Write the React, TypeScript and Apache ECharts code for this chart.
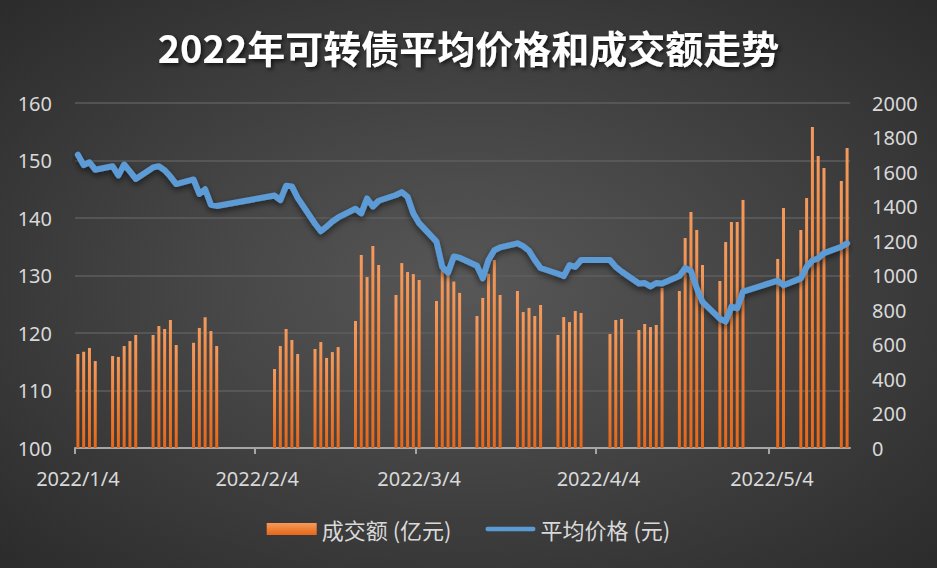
import React, { useEffect, useRef } from "react";
import * as echarts from "echarts";

// Trading days (2022)
const tradeDates = [
  "2022-01-04","2022-01-05","2022-01-06","2022-01-07","2022-01-10","2022-01-11","2022-01-12","2022-01-13","2022-01-14",
  "2022-01-17","2022-01-18","2022-01-19","2022-01-20","2022-01-21","2022-01-24","2022-01-25","2022-01-26","2022-01-27","2022-01-28",
  "2022-02-07","2022-02-08","2022-02-09","2022-02-10","2022-02-11","2022-02-14","2022-02-15","2022-02-16","2022-02-17","2022-02-18",
  "2022-02-21","2022-02-22","2022-02-23","2022-02-24","2022-02-25","2022-02-28",
  "2022-03-01","2022-03-02","2022-03-03","2022-03-04","2022-03-07","2022-03-08","2022-03-09","2022-03-10","2022-03-11",
  "2022-03-14","2022-03-15","2022-03-16","2022-03-17","2022-03-18","2022-03-21","2022-03-22","2022-03-23","2022-03-24","2022-03-25",
  "2022-03-28","2022-03-29","2022-03-30","2022-03-31",
  "2022-04-01","2022-04-06","2022-04-07","2022-04-08","2022-04-11","2022-04-12","2022-04-13","2022-04-14","2022-04-15",
  "2022-04-18","2022-04-19","2022-04-20","2022-04-21","2022-04-22","2022-04-25","2022-04-26","2022-04-27","2022-04-28","2022-04-29",
  "2022-05-05","2022-05-06","2022-05-09","2022-05-10","2022-05-11","2022-05-12","2022-05-13","2022-05-16","2022-05-17",
];

// 成交额 (亿元)
const volumes = [
  545, 558, 580, 504, 533, 528, 591, 620, 655,
  655, 707, 690, 742, 597, 610, 696, 758, 678, 591,
  458, 591, 690, 626, 545, 574, 614, 522, 556, 585,
  736, 1119, 991, 1171, 1061, 887,
  1072, 1020, 1008, 974, 852, 1032, 1003, 965, 899,
  765, 870, 1010, 1090, 887, 910, 788, 812, 765, 829,
  655, 759, 730, 794,
  783, 661, 742, 748, 684, 719, 701, 713, 928,
  910, 1217, 1368, 1264, 1061, 968, 1194, 1310, 1310, 1438,
  1096, 1391, 1264, 1449, 1861, 1693, 1623, 1548, 1739,
];

// 平均价格 (元)
const prices = [
  151.0, 149.2, 149.7, 148.4, 149.0, 147.4, 149.3, 148.1, 146.8,
  148.8, 149.0, 148.3, 147.2, 145.9, 146.7, 144.2, 145.0, 142.3, 142.1,
  143.9, 143.1, 145.6, 145.5, 143.5, 139.0, 137.7, 138.5, 139.4, 140.1,
  141.6, 140.8, 143.4, 142.0, 143.0, 144.0,
  144.5, 143.7, 140.8, 139.1, 135.9, 131.5, 130.5, 133.3, 133.1,
  131.7, 129.5, 132.7, 134.4, 134.9, 135.6, 135.1, 134.3, 132.7, 131.3,
  130.3, 129.9, 131.8, 131.5,
  132.7, 132.7, 131.5, 130.7, 128.6, 128.7, 128.1, 128.7, 128.6,
  129.9, 131.3, 130.8, 127.8, 125.4, 122.5, 122.0, 124.6, 124.3, 127.2,
  129.1, 128.3, 129.5, 131.5, 132.6, 133.0, 133.9, 135.0, 135.6,
];

const xLabelDates = ["2022-01-04", "2022-02-04", "2022-03-04", "2022-04-04", "2022-05-04"];
const axisStart = "2022-01-04";
const axisEnd = "2022-05-18";

const TITLE = "2022年可转债平均价格和成交额走势";
const BAR_NAME = "成交额 (亿元)";
const LINE_NAME = "平均价格 (元)";

function ts(s: string, hour = 0) {
  const [y, m, d] = s.split("-").map(Number);
  return new Date(y, m - 1, d, hour).getTime();
}

export default function App() {
  const ref = useRef<HTMLDivElement>(null);
  useEffect(() => {
    document.body.style.margin = "0";
    const chart = echarts.init(ref.current!, null, { renderer: "svg" });
    const labelFont = "'Noto Sans', 'Noto Sans CJK SC', sans-serif";
    const cjkFont = "'Noto Sans CJK SC', 'Noto Sans', sans-serif";
    chart.setOption({
      animation: false,
      backgroundColor: "transparent",
      title: {
        text: TITLE,
        left: "center",
        top: 22,
        textStyle: {
          color: "#ffffff",
          fontSize: 38,
          fontWeight: "bold",
          fontFamily: cjkFont,
          textShadowColor: "rgba(0,0,0,0.7)",
          textShadowBlur: 4,
          textShadowOffsetX: 2,
          textShadowOffsetY: 2,
        },
      },
      legend: {
        left: "center",
        top: 513,
        itemWidth: 50,
        itemHeight: 12,
        itemGap: 34,
        textStyle: { color: "#d9d9d9", fontSize: 22, fontFamily: cjkFont },
        data: [
          { name: BAR_NAME, icon: "rect" },
          {
            name: LINE_NAME,
            icon: "path://M2.5,0 L53.5,0 A2.5,2.5 0 0 1 53.5,5 L2.5,5 A2.5,2.5 0 0 1 2.5,0 Z",
            itemStyle: { color: "#5B9BD5" },
          },
        ],
      },
      grid: { left: 75, right: 87, top: 103, bottom: 120, outerBoundsMode: "none" },
      xAxis: {
        type: "value",
        min: ts(axisStart),
        max: ts(axisEnd),
        axisLine: { show: true, lineStyle: { color: "#a6a6a6", width: 2 } },
        axisTick: {
          show: true,
          length: 6,
          lineStyle: { color: "#a6a6a6", width: 2 },
          customValues: xLabelDates.map((d) => ts(d)),
        },
        axisLabel: {
          color: "#d9d9d9",
          fontSize: 20,
          fontFamily: labelFont,
          margin: 20,
          customValues: xLabelDates.map((d) => ts(d, 12)),
          formatter: (v: number) => {
            const d = new Date(v);
            return d.getFullYear() + "/" + (d.getMonth() + 1) + "/" + d.getDate();
          },
        },
        splitLine: { show: false },
      },
      yAxis: [
        {
          type: "value",
          min: 100,
          max: 160,
          interval: 10,
          axisLine: { show: false },
          axisTick: { show: false },
          axisLabel: { color: "#d9d9d9", fontSize: 20, fontFamily: labelFont, margin: 23, formatter: (v: number) => String(v) },
          splitLine: { lineStyle: { color: "#5e5e5e", width: 1.5 } },
        },
        {
          type: "value",
          min: 0,
          max: 2000,
          interval: 200,
          axisLine: { show: false },
          axisTick: { show: false },
          axisLabel: { color: "#d9d9d9", fontSize: 20, fontFamily: labelFont, margin: 22, formatter: (v: number) => String(v) },
          splitLine: { show: false },
        },
      ],
      series: [
        {
          name: BAR_NAME,
          type: "bar",
          yAxisIndex: 1,
          barWidth: 3,
          data: tradeDates.map((d, i) => [ts(d, 12), volumes[i]]),
          itemStyle: {
            color: new echarts.graphic.LinearGradient(0, 0, 0, 1, [
              { offset: 0, color: "#F59A5C" },
              { offset: 0.5, color: "#EE7F35" },
              { offset: 1, color: "#E5671A" },
            ]),
          },
        },
        {
          name: LINE_NAME,
          type: "line",
          yAxisIndex: 0,
          symbol: "none",
          showSymbol: false,
          data: tradeDates.map((d, i) => [ts(d, 12), prices[i]]),
          lineStyle: {
            color: "#5B9BD5",
            width: 6,
            cap: "round",
            join: "round",
            shadowColor: "rgba(0,0,0,0.55)",
            shadowBlur: 6,
            shadowOffsetY: 3,
          },
          itemStyle: { color: "#5B9BD5" },
        },
      ],
    });
    return () => chart.dispose();
  }, []);
  return (
    <div
      ref={ref}
      style={{
        width: 937,
        height: 568,
        background: "radial-gradient(ellipse farthest-corner at 50% 50%, #575757 0%, #464646 40%, #2b2b2b 100%)",
      }}
    />
  );
}
